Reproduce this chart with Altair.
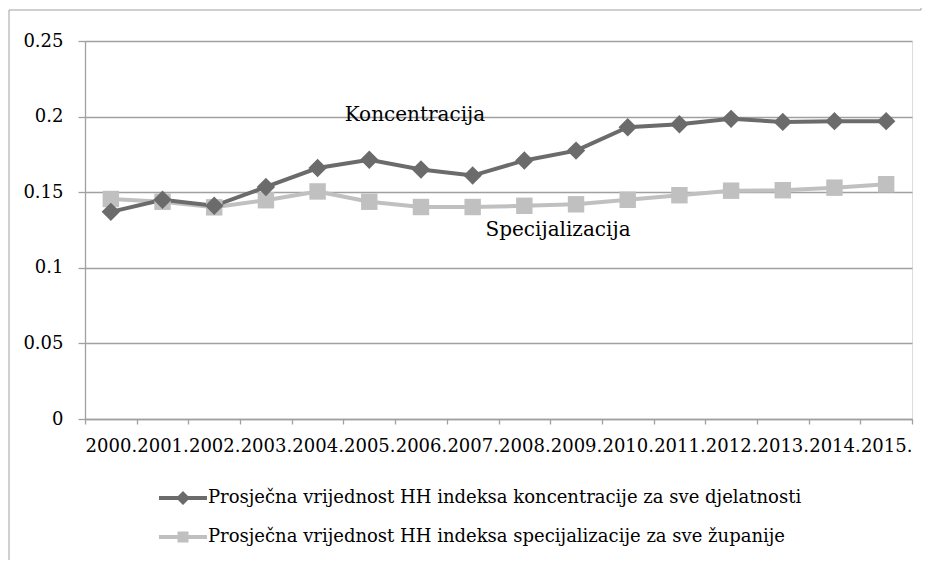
import altair as alt
import pandas as pd

FONT = "DejaVu Serif"
GRID = "#a0a0a0"
DARK = "#6b6b6b"
LIGHT = "#c0c0c0"

years = ["2000.", "2001.", "2002.", "2003.", "2004.", "2005.", "2006.", "2007.",
         "2008.", "2009.", "2010.", "2011.", "2012.", "2013.", "2014.", "2015."]
konc = [0.137, 0.145, 0.141, 0.1535, 0.166, 0.1715, 0.165, 0.161,
        0.171, 0.1775, 0.193, 0.195, 0.1985, 0.1965, 0.197, 0.197]
spec = [0.1455, 0.1437, 0.140, 0.1447, 0.1505, 0.1437, 0.1402, 0.1402,
        0.141, 0.142, 0.145, 0.148, 0.151, 0.1513, 0.153, 0.1553]
series_names = [
    "Prosječna vrijednost HH indeksa koncentracije za sve djelatnosti",
    "Prosječna vrijednost HH indeksa specijalizacije za sve županije",
]
ann_text = ["Koncentracija", "Specijalizacija"]
ann_year = ["2006.", "2009."]
ann_value = [0.201, 0.125]
y_ticks = [0, 0.05, 0.1, 0.15, 0.2, 0.25]

df_k = pd.DataFrame({"year": years, "value": konc, "series": series_names[0]})
df_s = pd.DataFrame({"year": years, "value": spec, "series": series_names[1]})
df_all = pd.concat([df_k, df_s], ignore_index=True)
df_ann = pd.DataFrame({"year": ann_year, "value": ann_value, "label": ann_text})
df_one = pd.DataFrame({"a": [0]})

W, H = 827, 378

x_enc = alt.X(
    "year:O", sort=years,
    scale=alt.Scale(type="band", paddingInner=0, paddingOuter=0),
    axis=alt.Axis(title=None, labelAngle=0, tickBand="extent", labelFontSize=18,
                  labelFont=FONT, labelColor="black", labelOverlap=False,
                  labelBound=False, labelPadding=13, tickSize=5, tickColor=GRID,
                  domainColor=GRID, domainWidth=1.3, tickWidth=1.3, grid=False),
)
y_enc = alt.Y(
    "value:Q",
    scale=alt.Scale(domain=[0, 0.25], nice=False, zero=True),
    axis=alt.Axis(title=None, values=y_ticks, format=".2~f", labelFontSize=18,
                  labelFont=FONT, labelColor="black", tickSize=7, labelPadding=15,
                  tickColor=GRID, domainColor=GRID, domainWidth=1.3, tickWidth=1.3,
                  grid=True, gridColor=GRID, gridWidth=1.3),
)

line_k = alt.Chart(df_k).mark_line(color=DARK, strokeWidth=4).encode(x=x_enc, y=y_enc)
pts_k = alt.Chart(df_k).mark_point(shape="diamond", filled=True, color=DARK,
                                   size=340, opacity=1).encode(x=x_enc, y=y_enc)
line_s = alt.Chart(df_s).mark_line(color=LIGHT, strokeWidth=4).encode(x=x_enc, y=y_enc)
pts_s = alt.Chart(df_s).mark_point(shape="square", filled=True, color=LIGHT,
                                   size=270, opacity=1).encode(x=x_enc, y=y_enc)

ann_k = alt.Chart(df_ann[df_ann.label == ann_text[0]]).mark_text(
    font=FONT, fontSize=20, color="black", dx=-6
).encode(x=x_enc, y=y_enc, text="label:N")
ann_s = alt.Chart(df_ann[df_ann.label == ann_text[1]]).mark_text(
    font=FONT, fontSize=20, color="black", dx=-18
).encode(x=x_enc, y=y_enc, text="label:N")

diamond_line = "M-2.4,-0.2H2.4V0.2H-2.4Z M0,-0.7L0.7,0L0,0.7L-0.7,0Z"
square_line = "M-2.4,-0.2H2.4V0.2H-2.4Z M-0.55,-0.55H0.55V0.55H-0.55Z"

legend_layer = alt.Chart(df_all).transform_filter("false").mark_point(
    filled=True, opacity=1
).encode(
    color=alt.Color("series:N", scale=alt.Scale(domain=series_names, range=[DARK, LIGHT]),
                    legend=alt.Legend(title=None, orient="none", legendX=88, legendY=447,
                                      direction="vertical", labelFont=FONT, labelFontSize=18,
                                      labelColor="black", labelLimit=0, symbolSize=400,
                                      symbolStrokeWidth=0, labelOffset=15, rowPadding=20)),
    shape=alt.Shape("series:N", scale=alt.Scale(domain=series_names,
                                                range=[diamond_line, square_line])),
)

frame_left = alt.Chart(df_one).mark_rule(color=GRID, strokeWidth=1).encode(
    x=alt.value(-76), y=alt.value(-31), y2=alt.value(H + 141))
frame_top = alt.Chart(df_one).mark_rule(color=GRID, strokeWidth=1).encode(
    x=alt.value(-76), x2=alt.value(836), y=alt.value(-31))
frame_right = alt.Chart(df_one).mark_rule(color=GRID, strokeWidth=1).encode(
    x=alt.value(836), y=alt.value(-41), y2=alt.value(-31))

chart = alt.layer(
    frame_left, frame_top, frame_right,
    line_s, line_k, pts_s, pts_k, ann_k, ann_s, legend_layer,
).resolve_legend(color="shared", shape="shared").properties(
    width=W, height=H, autosize="none",
    padding={"left": 77, "top": 33, "right": 10, "bottom": 141},
).configure_view(stroke=None).configure(background="white")

chart.save("out.html", embed_options={"renderer": "svg", "actions": False})
